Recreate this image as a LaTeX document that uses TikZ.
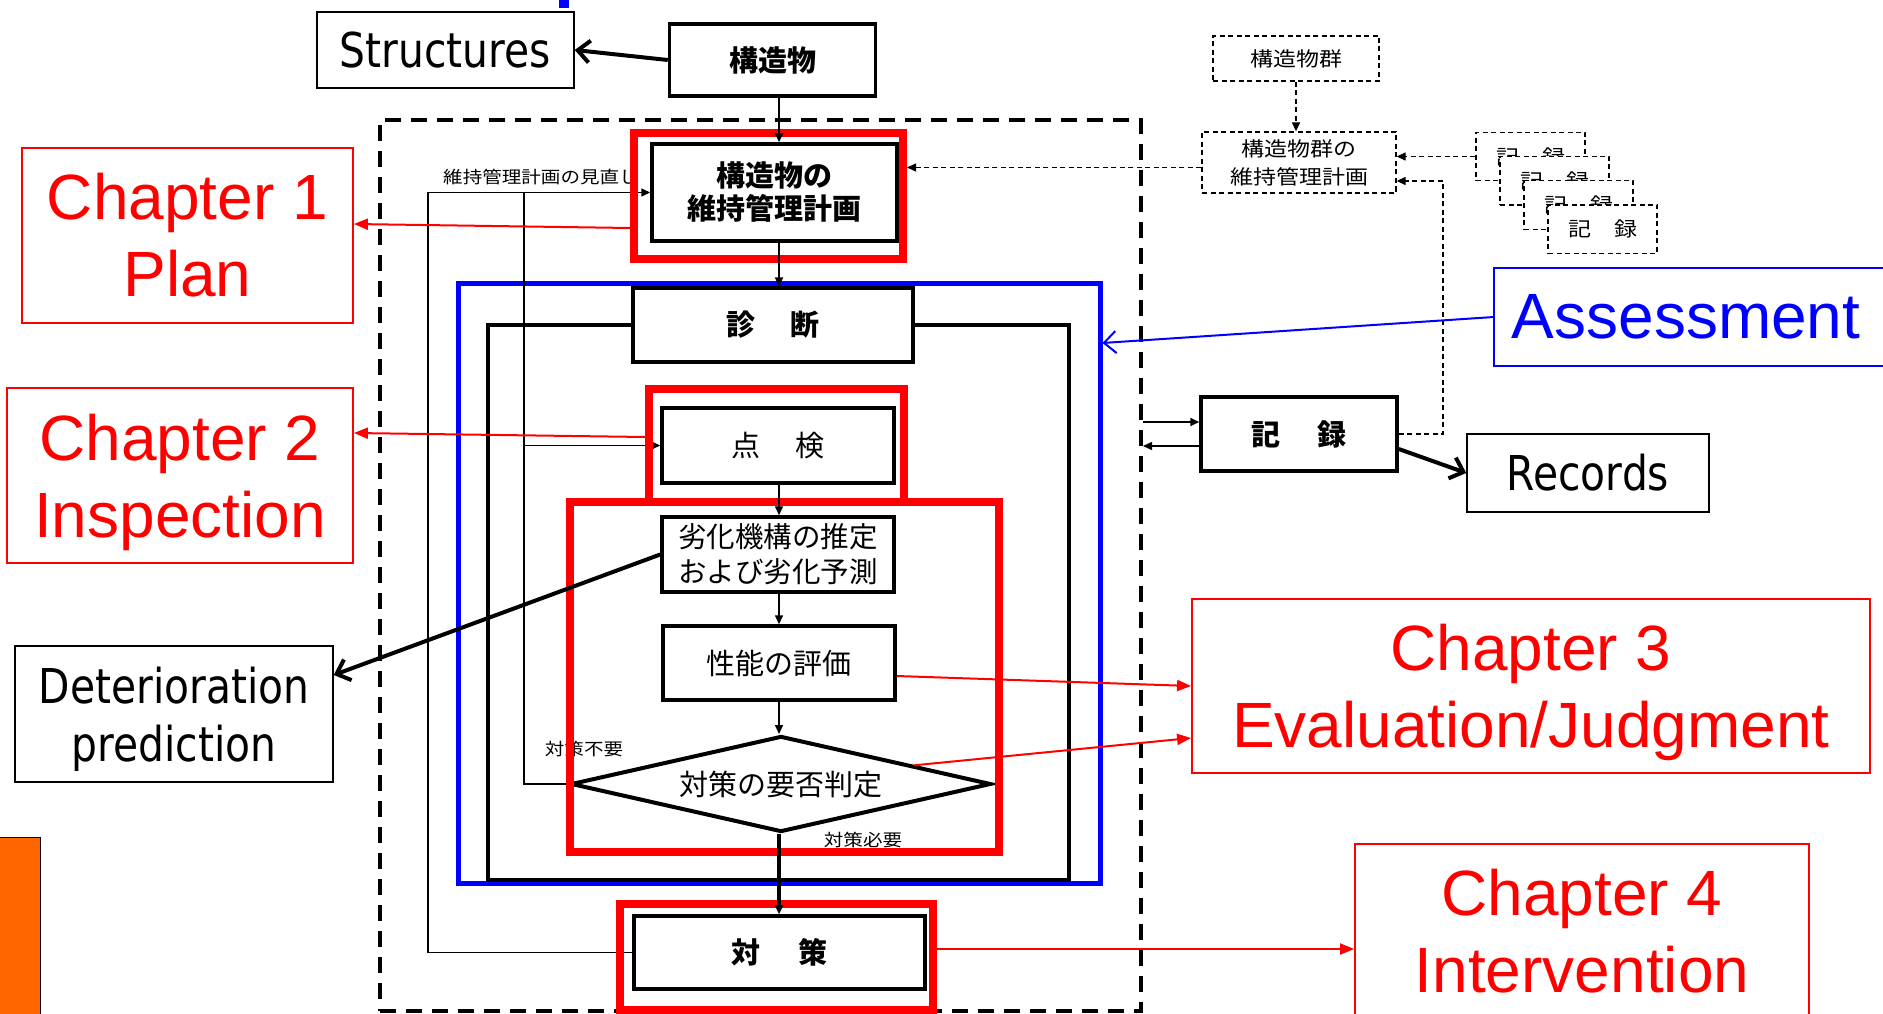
\documentclass[tikz,border=0pt]{standalone}
\usepackage{fontspec}
\setmainfont{Liberation Sans}
\newfontfamily\jpfont{Noto Sans CJK JP}
\newfontfamily\jpwide{Noto Sans CJK JP}[FakeStretch=1.15]
\newfontfamily\tahoma{DejaVu Sans}[FakeStretch=0.85]
\usetikzlibrary{arrows.meta,positioning,shapes.geometric}
\newcommand\nodepth[1]{\raisebox{0pt}[\height][0pt]{#1}}
\tikzset{
  flowbox/.style={draw, line width=3.5pt, fill=white, align=center, inner sep=0pt, font=\jpfont\fontsize{29}{33}\selectfont},
  flowbold/.style={flowbox, font=\jpfont\bfseries\fontsize{29}{33}\selectfont},
  redframe/.style={draw=red, line width=8pt, inner sep=0pt},
  chapbox/.style={draw=red, text=red, line width=1.8pt, align=center, inner sep=0pt, font=\fontsize{64}{77}\selectfont},
  engbox/.style={draw, line width=1.5pt, fill=white, align=center, inner sep=0pt, font=\tahoma\fontsize{48}{58}\selectfont},
  groupbox/.style={draw, dash pattern=on 5pt off 3.5pt, line width=1.3pt, fill=white, align=center, inner sep=0pt, font=\jpwide\fontsize{20}{28}\selectfont},
  smalltext/.style={inner sep=0pt, font=\jpwide\fontsize{17}{20}\selectfont},
  flowline/.style={line width=1.5pt, -{Triangle[length=9pt,width=8pt]}},
  dashflow/.style={flowline, line width=1.3pt, dash pattern=on 5pt off 3.5pt},
  bigarrow/.style={line width=4pt, -{Straight Barb[length=12pt,width=22pt]}},
  chaparrow/.style={red, line width=2pt, -{Triangle[length=14pt,width=11pt]}}
}
\begin{document}
\begin{tikzpicture}[x=1pt,y=-1pt]
\useasboundingbox (0,0) rectangle (1883,1014);
\definecolor{slideorange}{RGB}{255,102,0}
\fill[blue] (559,-2) rectangle (569,8);
\draw[fill=slideorange, line width=1pt] (-2,837) rectangle (40,1020);
\node[draw, line width=4pt, dash pattern=on 16pt off 10pt, minimum width=761pt, minimum height=891pt, inner sep=0pt] (maint) at (760.5,565.5) {};
\node[draw=blue, line width=5pt, minimum width=642pt, minimum height=600pt, inner sep=0pt] (bluebox) at (779,583) {};
\draw[line width=3.5pt] (488,325) rectangle (1069,880);
\node[flowbold, minimum width=206pt, minimum height=72pt] (kozo) at (772.5,60) {構造物};
\node[flowbold, minimum width=245pt, minimum height=97pt] (plan) at (774.5,192.5) {構造物の\\維持管理計画};
\node[flowbold, minimum width=280pt, minimum height=74pt] (diag) at (773,325) {診\hspace{35pt}断};
\node[flowbox, minimum width=232pt, minimum height=75pt] (insp) at (778,445.5) {点\hspace{35pt}検};
\node[flowbox, minimum width=232pt, minimum height=75pt, font=\jpfont\fontsize{28.5}{35}\selectfont] (deter) at (778,554.5) {劣化機構の推定\\および劣化予測};
\node[flowbox, minimum width=232pt, minimum height=74pt] (perf) at (779,663) {性能の評価};
\node[flowbox, shape=diamond, aspect=4.4, line width=4pt, minimum width=420pt, minimum height=96pt] (judge) at (781,784) {対策の要否判定};
\node[flowbold, minimum width=291pt, minimum height=73pt] (taisaku) at (779.5,952.5) {対\hspace{38pt}策};
\coordinate (spine) at (779,0);
\coordinate (fbout) at (428,0);
\coordinate (fbin) at (524,0);
\node[smalltext, anchor=west] (fblabel) at (443,177) {維持管理計画の見直し};
\node[smalltext] (nolabel) at (584,749) {対策不要};
\node[smalltext] (yeslabel) at (863,840) {対策必要};
\draw[flowline] (taisaku.west) -- (taisaku.west -| fbout) |- (plan.west);
\draw[line width=1.5pt] (judge.west) -- (judge.west -| fbin) -- (fbin |- plan.west);
\draw[flowline] (fbin |- insp.west) -- (insp.west);
\node[redframe, minimum width=269pt, minimum height=126pt] (planred) at (768.5,196) {};
\node[redframe, minimum width=255pt, minimum height=113pt] (inspred) at (776.5,445.5) {};
\node[redframe, minimum width=429pt, minimum height=350pt] (evalred) at (784.5,677) {};
\node[redframe, minimum width=313pt, minimum height=106pt] (taisakured) at (776.5,957) {};
\draw[flowline, line width=2.5pt] (kozo.south -| spine) -- (plan.north -| spine);
\draw[flowline, line width=2.5pt] (plan.south -| spine) -- (diag.north -| spine);
\draw[flowline] (insp.south -| spine) -- (deter.north -| spine);
\draw[flowline] (deter.south -| spine) -- (perf.north -| spine);
\draw[flowline] (perf.south -| spine) -- (judge.north -| spine);
\draw[flowline, line width=3.5pt] (judge.south -| spine) -- (taisaku.north -| spine);
\node[engbox, minimum width=257pt, minimum height=76pt] (structures) at (445.5,50) {Structures};
\node[engbox, minimum width=318pt, minimum height=136pt] (detbox) at (174,714) {Deterioration\\\nodepth{prediction}};
\node[flowbold, minimum width=196pt, minimum height=74pt] (kiroku) at (1299,434) {記\hspace{37pt}録};
\node[engbox, minimum width=242pt, minimum height=78pt] (records) at (1588,473) {Records};
\node[groupbox, minimum width=166pt, minimum height=45pt] (gunbox) at (1296,58.5) {構造物群};
\node[groupbox, minimum width=194pt, minimum height=61pt] (gunplan) at (1299,162.5) {構造物群の\\維持管理計画};
\foreach \i in {0,...,3}
  \node[groupbox, minimum width=109pt, minimum height=48.5pt] (rec\i) at ({1530.5+24*\i},{156.5+24.2*\i}) {記　録};
\coordinate (recbus) at (1443,181);
\node[chapbox, minimum width=331pt, minimum height=175pt] (chap1) at (187.5,235.5) {Chapter 1\\Plan};
\node[chapbox, minimum width=346pt, minimum height=175pt] (chap2) at (180,475.5) {Chapter 2\\\nodepth{Inspection}};
\node[chapbox, minimum width=678pt, minimum height=174pt] (chap3) at (1531,686) {Chapter 3\\\nodepth{Evaluation/Judgment}};
\node[chapbox, minimum width=454pt, minimum height=174pt] (chap4) at (1582,931) {Chapter 4\\Intervention};
\node[text=blue, inner sep=0pt, minimum width=384pt, minimum height=98pt, font=\fontsize{64}{77}\selectfont] (assess) at (1686,317) {Assessment};
\draw[blue, line width=1.8pt] (assess.north west) rectangle ++(430,98);
\draw[dashflow] (gunbox.south) -- (gunbox.south |- gunplan.north);
\draw[dashflow] ([yshift=-5pt]gunplan.west) -- ([yshift=-5pt]gunplan.west -| planred.east);
\draw[dashflow] (rec0.west) -- (rec0.west -| gunplan.east);
\draw[dashflow] (kiroku.east) -| (recbus) -- (recbus -| gunplan.east);
\draw[flowline] ([yshift=12pt]kiroku.west -| maint.east) -- ([yshift=12pt]kiroku.west);
\draw[flowline] ([yshift=-12pt]kiroku.west) -- ([yshift=-12pt]kiroku.west -| maint.east);
\draw[chaparrow] ([yshift=-32pt]planred.west) -- ([yshift=11.5pt]chap1.east);
\draw[chaparrow] ([yshift=8.5pt]inspred.west) -- ([yshift=42.5pt]chap2.east);
\draw[chaparrow] ([yshift=-13pt]perf.east) -- (chap3.west);
\draw[chaparrow] (judge.8) -- ([yshift=-52pt]chap3.west);
\draw[chaparrow] ([yshift=8pt]taisakured.east) -- ([yshift=8pt]taisakured.east -| chap4.west);
\draw[blue, line width=2pt, -{Straight Barb[length=12pt,width=22pt]}] (assess.west) -- ([yshift=240pt]bluebox.east);
\draw[bigarrow] (kozo.west) -- (structures.east);
\draw[bigarrow] ([yshift=-15pt]kiroku.east) -- (records.west);
\draw[bigarrow] (deter.west) -- ([yshift=39pt]detbox.east);
\end{tikzpicture}
\end{document}
